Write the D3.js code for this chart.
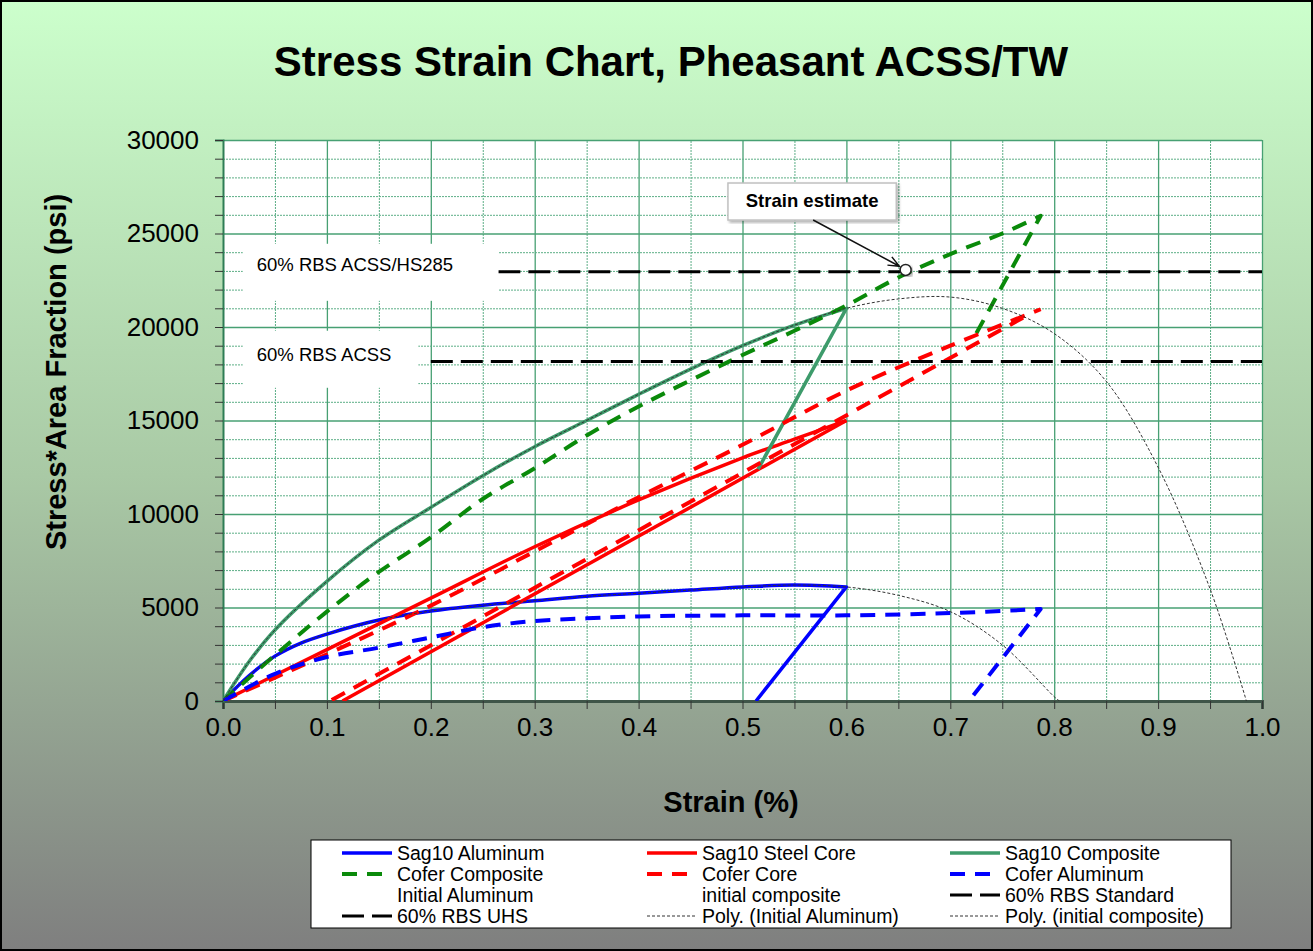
<!DOCTYPE html>
<html lang="en">
<head>
  <meta charset="UTF-8" />
  <title>stress strain chart</title>
  <script src="https://d3js.org/d3.v7.min.js"></script>
  <style>
    body { margin: 0; }
    text { font-family: Arial, "Liberation Sans", sans-serif; }
  </style>
</head>
<body>
<script type="text/javascript">

const WIDTH = 1313;
const HEIGHT = 951;

// tick values
const strainTicks = d3.range(0, 21).map(i => i * 0.05);
const stressTicks = d3.range(0, 31).map(i => i * 1000);

// Sag10 curves (strain %, stress*area)
const sagAluminum = [[0,0],[0.025,1350],[0.05,2400],[0.075,3100],[0.1,3580],[0.15,4330],[0.2,4810],[0.25,5120],[0.3,5360],[0.35,5600],[0.4,5760],[0.45,5930],[0.5,6100],[0.55,6200],[0.6,6100]];
const sagAluminumUnload = [[0.6,6100],[0.513,0]];
const sagSteel = [[0,0],[0.1,2750],[0.2,5500],[0.3,8250],[0.4,10750],[0.5,13000],[0.55,14000],[0.6,15000]];
const sagSteelUnload = [[0.6,15000],[0.115,0]];
const sagComposite = [[0,0],[0.025,2100],[0.05,3800],[0.1,6400],[0.15,8600],[0.2,10350],[0.25,12050],[0.3,13600],[0.35,15000],[0.4,16400],[0.45,17750],[0.5,19000],[0.55,20100],[0.6,21000]];
const sagCompositeUnload = [[0.6,21000],[0.515,12400]];

// Cofer curves
const coferComposite = [[0,0],[0.05,2450],[0.1,4780],[0.15,6900],[0.2,8750],[0.25,10800],[0.3,12450],[0.35,14200],[0.4,15750],[0.45,17150],[0.5,18500],[0.55,19800],[0.6,21150],[0.65,22650],[0.7,23900],[0.75,25000],[0.787,25950]];
const coferCompositeUnload = [[0.787,25950],[0.7215,19300]];
const coferCore = [[0,0],[0.05,1250],[0.1,2500],[0.2,5100],[0.3,8000],[0.4,10900],[0.5,13700],[0.6,16600],[0.7,19000],[0.787,20950]];
const coferCoreUnload = [[0.77,20500],[0.103,0]];
const coferAluminum = [[0,0],[0.05,1450],[0.1,2350],[0.15,2850],[0.2,3400],[0.25,3950],[0.3,4280],[0.35,4420],[0.4,4520],[0.5,4580],[0.6,4580],[0.7,4700],[0.787,4920]];
const coferAluminumUnload = [[0.787,4920],[0.718,0]];

// 60% RBS levels
const rbsStandard = [[0.2,18150],[1.0,18150]];
const rbsUhs = [[0.265,22950],[1.0,22950]];

// polynomial trendlines
const polyAluminum = sagAluminum.concat([[0.65,5650],[0.7,4780],[0.75,3000],[0.8,230],[0.805,0]]);
const polyComposite = sagComposite.concat([[0.65,21500],[0.7,21600],[0.75,21000],[0.8,19650],[0.85,17100],[0.9,12500],[0.95,6000],[0.985,0]]);

const strainEstimate = [0.657, 23050];

const BLUE = "#0000ff", RED = "#ff0000", SEA = "#3d9b6b", GREEN = "#0a8a0a", BLACK = "#000000", POLY = "#333333";
const DASH = "15,10", LONGDASH = "22,8", DOT = "3,2";

const svg = d3.select("body")
    .append("svg")
        .attr("width", WIDTH)
        .attr("height", HEIGHT);

// background
const grad = svg.append("defs").append("linearGradient")
    .attr("id", "bg").attr("x1", 0).attr("y1", 0).attr("x2", 0).attr("y2", 1);
grad.append("stop").attr("offset", "0%").attr("stop-color", "#ccffcc");
grad.append("stop").attr("offset", "50%").attr("stop-color", "#a9c9a5");
grad.append("stop").attr("offset", "100%").attr("stop-color", "#7f7f7f");
svg.append("rect")
    .attr("x", 1).attr("y", 1)
    .attr("width", WIDTH - 2).attr("height", HEIGHT - 2)
    .attr("fill", "url(#bg)")
    .attr("stroke", "#000").attr("stroke-width", 2);

svg.select("defs").append("clipPath").attr("id", "plot")
  .append("rect").attr("x", 223).attr("y", 140).attr("width", 1039).attr("height", 561);

svg.select("defs").append("filter").attr("id", "shadow")
  .append("feDropShadow").attr("dx", 2).attr("dy", 2).attr("stdDeviation", 1.5)
  .attr("flood-color", "#000").attr("flood-opacity", 0.3);

const x = d3.scaleLinear().domain([0, 1]).range([223, 1262]);
const y = d3.scaleLinear().domain([0, 30000]).range([701, 140]);

// title
svg.append("text")
    .attr("x", 671).attr("y", 76)
    .attr("text-anchor", "middle")
    .attr("font-size", 42).attr("font-weight", "bold")
    .text("Stress Strain Chart, Pheasant ACSS/TW");

// plot area
svg.append("rect")
    .attr("x", x(0)).attr("y", y(30000))
    .attr("width", x(1) - x(0)).attr("height", y(0) - y(30000))
    .attr("fill", "#fff");

const isMajorX = d => Math.round(d * 100) % 10 === 0;
const isMajorY = d => d % 5000 === 0;

// grid
svg.append("g")
    .attr("transform", `translate(0,${y(0)})`)
    .call(d3.axisBottom(x).tickValues(strainTicks.slice(1)).tickSize(-(y(0) - y(30000))).tickFormat(""))
    .call(g => g.select(".domain").remove())
    .call(g => g.selectAll(".tick line")
        .attr("stroke", d => isMajorX(d) ? "#47a073" : "#5cae86")
        .attr("stroke-width", d => isMajorX(d) ? 1.3 : 1)
        .attr("stroke-dasharray", d => isMajorX(d) ? null : "2,1"));
svg.append("g")
    .attr("transform", `translate(${x(0)},0)`)
    .call(d3.axisLeft(y).tickValues(stressTicks.slice(1)).tickSize(-(x(1) - x(0))).tickFormat(""))
    .call(g => g.select(".domain").remove())
    .call(g => g.selectAll(".tick line")
        .attr("stroke", d => isMajorY(d) ? "#47a073" : "#5cae86")
        .attr("stroke-width", d => isMajorY(d) ? 1.3 : 1)
        .attr("stroke-dasharray", d => isMajorY(d) ? null : "2,1"));

// axes
svg.append("g")
    .attr("transform", `translate(0,${y(0)})`)
    .call(d3.axisBottom(x).tickValues(strainTicks).tickSize(8).tickPadding(9)
        .tickFormat(d => isMajorX(d) ? d3.format(".1f")(d) : ""))
    .call(g => g.select(".domain").attr("stroke", "#3f5548").attr("stroke-width", 3))
    .call(g => g.selectAll(".tick line").attr("stroke", "#333"))
    .call(g => g.selectAll(".tick text").attr("font-size", 26).attr("fill", "#000")
        .attr("font-family", "Arial, 'Liberation Sans', sans-serif"));
svg.append("g")
    .attr("transform", `translate(${x(0)},0)`)
    .call(d3.axisLeft(y).tickValues(stressTicks).tickSize(8).tickPadding(16)
        .tickFormat(d => isMajorY(d) ? d : ""))
    .call(g => g.select(".domain").attr("stroke", "#2e7d55").attr("stroke-width", 2))
    .call(g => g.selectAll(".tick line").attr("stroke", "#333"))
    .call(g => g.selectAll(".tick text").attr("font-size", 26).attr("fill", "#000")
        .attr("font-family", "Arial, 'Liberation Sans', sans-serif"));

// axis titles
svg.append("text")
    .attr("transform", "translate(66,372) rotate(-90)")
    .attr("text-anchor", "middle")
    .attr("font-size", 29).attr("font-weight", "bold")
    .text("Stress*Area Fraction (psi)");
svg.append("text")
    .attr("x", 731).attr("y", 812)
    .attr("text-anchor", "middle")
    .attr("font-size", 29).attr("font-weight", "bold")
    .text("Strain (%)");

// series
const smooth = d3.line().x(d => x(d[0])).y(d => y(d[1])).curve(d3.curveCatmullRom);
const straight = d3.line().x(d => x(d[0])).y(d => y(d[1]));
const path = (load, unload) => smooth(load) + (unload ? straight(unload).replace(/^M/, "L") : "");

const series = [
    {load: sagAluminum, unload: sagAluminumUnload, color: BLUE, width: 3.5, dash: null},
    {load: sagSteel, unload: null, color: RED, width: 3.5, dash: null},
    {load: sagSteelUnload, unload: null, color: RED, width: 3.5, dash: null, linear: true},
    {load: sagComposite, unload: sagCompositeUnload, color: SEA, width: 3.5, dash: null},
    {load: coferComposite, unload: coferCompositeUnload, color: GREEN, width: 4, dash: DASH},
    {load: coferCore, unload: null, color: RED, width: 4, dash: DASH},
    {load: coferCoreUnload, unload: null, color: RED, width: 4, dash: DASH, linear: true},
    {load: coferAluminum, unload: coferAluminumUnload, color: BLUE, width: 4, dash: DASH},
    {load: rbsStandard, unload: null, color: BLACK, width: 3, dash: LONGDASH, linear: true},
    {load: rbsUhs, unload: null, color: BLACK, width: 3, dash: LONGDASH, linear: true},
    {load: polyAluminum, unload: null, color: POLY, width: 1, dash: DOT},
    {load: polyComposite, unload: null, color: POLY, width: 1, dash: DOT}
];

svg.append("g")
    .attr("clip-path", "url(#plot)")
    .selectAll("path")
    .data(series)
    .join("path")
        .attr("d", d => d.linear ? straight(d.load) : path(d.load, d.unload))
        .attr("fill", "none")
        .attr("stroke", d => d.color)
        .attr("stroke-width", d => d.width)
        .attr("stroke-dasharray", d => d.dash)
        .attr("stroke-linejoin", "round");

// RBS label boxes
const rbsLabels = [
    {text: "60% RBS ACSS/HS285", x0: 0.019, x1: 0.265, y0: 24450, y1: 21400, base: 22950},
    {text: "60% RBS ACSS", x0: 0.019, x1: 0.188, y0: 19800, y1: 16750, base: 18150}
];
rbsLabels.forEach(l => {
    svg.append("rect")
        .attr("x", x(l.x0)).attr("y", y(l.y0))
        .attr("width", x(l.x1) - x(l.x0)).attr("height", y(l.y1) - y(l.y0))
        .attr("fill", "#fff");
    svg.append("text")
        .attr("x", x(l.x0) + 14).attr("y", y(l.base) - 1)
        .attr("font-family", "Lato, 'Open Sans', sans-serif")
        .attr("font-size", 18.5)
        .attr("fill", "#000")
        .text(l.text);
});

// strain estimate callout
svg.append("circle")
    .attr("cx", x(strainEstimate[0])).attr("cy", y(strainEstimate[1]))
    .attr("r", 5.5)
    .attr("fill", "#fff").attr("stroke", "#222").attr("stroke-width", 1.5)
    .attr("filter", "url(#shadow)");
svg.append("rect")
    .attr("x", x(0.486)).attr("y", y(27700))
    .attr("width", x(0.648) - x(0.486)).attr("height", y(25720) - y(27700))
    .attr("fill", "#fff").attr("stroke", "#c0c0c0").attr("stroke-width", 1.5)
    .attr("filter", "url(#shadow)");
svg.append("text")
    .attr("x", x(0.567)).attr("y", y(26420))
    .attr("text-anchor", "middle")
    .attr("font-size", 18.5).attr("font-weight", "bold")
    .text("Strain estimate");
const ax0 = x(0.568), ay0 = y(25720), ax1 = x(0.651), ay1 = y(23250);
const ang = Math.atan2(ay1 - ay0, ax1 - ax0);
svg.append("path")
    .attr("d", `M${ax0},${ay0}L${ax1},${ay1}` +
        `M${ax1 - 12 * Math.cos(ang - 0.4)},${ay1 - 12 * Math.sin(ang - 0.4)}L${ax1},${ay1}` +
        `L${ax1 - 12 * Math.cos(ang + 0.4)},${ay1 - 12 * Math.sin(ang + 0.4)}`)
    .attr("fill", "none").attr("stroke", "#111").attr("stroke-width", 1.5);

// legend
const legendItems = [
    {name: "Sag10 Aluminum", color: BLUE, width: 3.5, dash: null},
    {name: "Sag10 Steel Core", color: RED, width: 3.5, dash: null},
    {name: "Sag10 Composite", color: SEA, width: 3.5, dash: null},
    {name: "Cofer Composite", color: GREEN, width: 4, dash: DASH},
    {name: "Cofer Core", color: RED, width: 4, dash: DASH},
    {name: "Cofer Aluminum", color: BLUE, width: 4, dash: DASH},
    {name: "Initial Aluminum", color: null},
    {name: "initial composite", color: null},
    {name: "60% RBS Standard", color: BLACK, width: 3, dash: LONGDASH},
    {name: "60% RBS UHS", color: BLACK, width: 3, dash: LONGDASH},
    {name: "Poly. (Initial Aluminum)", color: POLY, width: 1, dash: DOT},
    {name: "Poly. (initial composite)", color: POLY, width: 1, dash: DOT}
];
const legendCols = [342, 647, 950];
const legend = svg.append("g");
legend.append("rect")
    .attr("x", 311).attr("y", 840).attr("width", 920).attr("height", 88)
    .attr("fill", "#fff").attr("stroke", "#000").attr("stroke-width", 1);
legendItems.forEach((d, i) => {
    const lx = legendCols[i % 3], ly = 853 + Math.floor(i / 3) * 21;
    if (d.color) {
        legend.append("line")
            .attr("x1", lx).attr("x2", lx + 50).attr("y1", ly).attr("y2", ly)
            .attr("stroke", d.color).attr("stroke-width", d.width)
            .attr("stroke-dasharray", d.dash);
    }
    legend.append("text")
        .attr("x", lx + 55).attr("y", ly + 6.5)
        .attr("font-size", 19.5)
        .text(d.name);
});

</script>
</body>
</html>
